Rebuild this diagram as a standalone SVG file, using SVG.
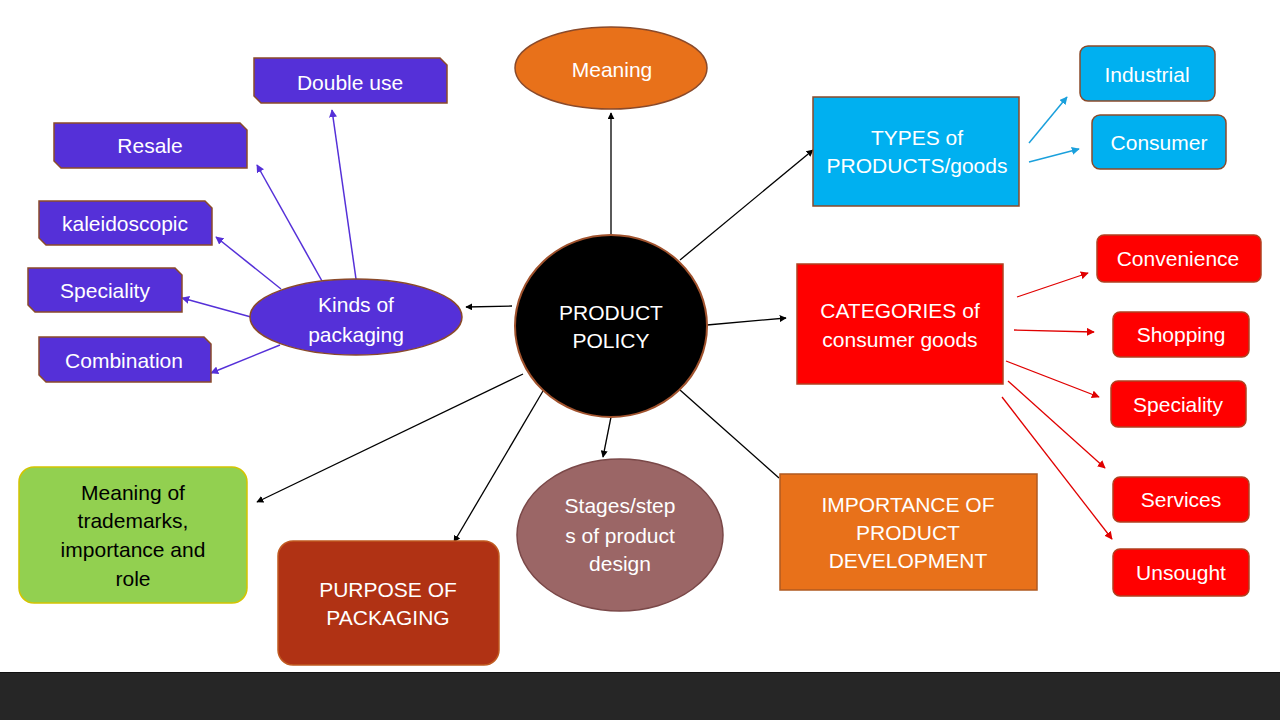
<svg xmlns="http://www.w3.org/2000/svg" width="1280" height="720" viewBox="0 0 1280 720">
<style>
text{font-family:"Liberation Sans",Arial,sans-serif;font-size:21px;fill:#fff;text-anchor:middle}
.dk{fill:#000}
.pu{fill:#5530d8;stroke:#8a4a2a;stroke-width:1.5}
.cy{fill:#00b0f0;stroke:#8a4a2a;stroke-width:1.5}
.rd{fill:#ff0000;stroke:#b04020;stroke-width:1.5}
.k{stroke:#000;stroke-width:1.3;fill:none}
.p{stroke:#5530d8;stroke-width:1.5;fill:none}
.b{stroke:#1aa0dc;stroke-width:1.5;fill:none}
.r{stroke:#e00000;stroke-width:1.3;fill:none}
</style>
<defs>
<marker id="ak" viewBox="0 0 10 10" refX="9" refY="5" markerWidth="7" markerHeight="7" orient="auto" markerUnits="userSpaceOnUse"><path d="M0,0L10,5L0,10z" fill="#000"/></marker>
<marker id="ap" viewBox="0 0 10 10" refX="9" refY="5" markerWidth="8" markerHeight="8" orient="auto" markerUnits="userSpaceOnUse"><path d="M0,0L10,5L0,10z" fill="#5530d8"/></marker>
<marker id="ab" viewBox="0 0 10 10" refX="9" refY="5" markerWidth="8" markerHeight="8" orient="auto" markerUnits="userSpaceOnUse"><path d="M0,0L10,5L0,10z" fill="#1aa0dc"/></marker>
<marker id="ar" viewBox="0 0 10 10" refX="9" refY="5" markerWidth="8" markerHeight="8" orient="auto" markerUnits="userSpaceOnUse"><path d="M0,0L10,5L0,10z" fill="#e00000"/></marker>
</defs>
<rect width="1280" height="720" fill="#fff"/>
<g id="connectors">
<line class="k" x1="611" y1="235" x2="611" y2="113" marker-end="url(#ak)"/>
<line class="k" x1="512" y1="306" x2="466" y2="307" marker-end="url(#ak)"/>
<line class="k" x1="680" y1="260" x2="813" y2="150" marker-end="url(#ak)"/>
<line class="k" x1="707" y1="325" x2="786" y2="318" marker-end="url(#ak)"/>
<line class="k" x1="680" y1="390" x2="779" y2="478"/>
<line class="k" x1="523" y1="374" x2="257" y2="502" marker-end="url(#ak)"/>
<line class="k" x1="543" y1="391" x2="454" y2="542" marker-end="url(#ak)"/>
<line class="k" x1="611" y1="417" x2="603" y2="457" marker-end="url(#ak)"/>
<line class="p" x1="356" y1="279" x2="332" y2="110" marker-end="url(#ap)"/>
<line class="p" x1="322" y1="281" x2="257" y2="165" marker-end="url(#ap)"/>
<line class="p" x1="281" y1="289" x2="216" y2="237" marker-end="url(#ap)"/>
<line class="p" x1="251" y1="317" x2="182" y2="298" marker-end="url(#ap)"/>
<line class="p" x1="280" y1="345" x2="211" y2="373" marker-end="url(#ap)"/>
<line class="b" x1="1029" y1="143" x2="1067" y2="97" marker-end="url(#ab)"/>
<line class="b" x1="1029" y1="162" x2="1079" y2="149" marker-end="url(#ab)"/>
<line class="r" x1="1017" y1="297" x2="1088" y2="273" marker-end="url(#ar)"/>
<line class="r" x1="1014" y1="330" x2="1094" y2="332" marker-end="url(#ar)"/>
<line class="r" x1="1006" y1="361" x2="1099" y2="397" marker-end="url(#ar)"/>
<line class="r" x1="1008" y1="381" x2="1105" y2="468" marker-end="url(#ar)"/>
<line class="r" x1="1002" y1="397" x2="1112" y2="539" marker-end="url(#ar)"/>
</g>
<g id="product-policy"><ellipse cx="611" cy="326" rx="96" ry="91" fill="#000" stroke="#a0522d" stroke-width="2"/><text x="611" y="320" font-size="20">PRODUCT</text><text x="611" y="348" font-size="20">POLICY</text></g>
<g id="meaning"><ellipse cx="611" cy="68" rx="96" ry="41" fill="#e8711a" stroke="#8a4a2a" stroke-width="1.5"/><text x="612" y="77">Meaning</text></g>
<g id="kinds"><ellipse cx="356" cy="317" rx="106" ry="38" class="pu"/><text x="356" y="312">Kinds of</text><text x="356" y="342">packaging</text></g>
<g id="double-use"><path class="pu" d="M254,58H440L447,65V103H261L254,96Z"/><text x="350" y="90">Double use</text></g>
<g id="resale"><path class="pu" d="M54,123H240L247,130V168H61L54,161Z"/><text x="150" y="153">Resale</text></g>
<g id="kaleidoscopic"><path class="pu" d="M39,201H205L212,208V245H46L39,238Z"/><text x="125" y="231">kaleidoscopic</text></g>
<g id="speciality-pack"><path class="pu" d="M28,268H175L182,275V312H35L28,305Z"/><text x="105" y="298">Speciality</text></g>
<g id="combination"><path class="pu" d="M39,337H204L211,344V382H46L39,375Z"/><text x="124" y="368">Combination</text></g>
<g id="types"><rect x="813" y="97" width="206" height="109" class="cy"/><text x="917" y="145">TYPES of</text><text x="917" y="173">PRODUCTS/goods</text></g>
<g id="industrial"><rect x="1080" y="46" width="135" height="55" rx="8" class="cy"/><text x="1147" y="82">Industrial</text></g>
<g id="consumer"><rect x="1092" y="115" width="134" height="54" rx="8" class="cy"/><text x="1159" y="150">Consumer</text></g>
<g id="categories"><rect x="797" y="264" width="206" height="120" class="rd"/><text x="900" y="318">CATEGORIES of</text><text x="900" y="347">consumer goods</text></g>
<g id="convenience"><rect x="1097" y="235" width="164" height="47" rx="7" class="rd"/><text x="1178" y="266">Convenience</text></g>
<g id="shopping"><rect x="1113" y="312" width="136" height="45" rx="7" class="rd"/><text x="1181" y="342">Shopping</text></g>
<g id="speciality-cons"><rect x="1111" y="381" width="135" height="46" rx="7" class="rd"/><text x="1178" y="412">Speciality</text></g>
<g id="services"><rect x="1113" y="477" width="136" height="45" rx="7" class="rd"/><text x="1181" y="507">Services</text></g>
<g id="unsought"><rect x="1113" y="549" width="136" height="47" rx="7" class="rd"/><text x="1181" y="580">Unsought</text></g>
<g id="importance"><rect x="780" y="474" width="257" height="116" fill="#e8711a" stroke="#b05a20" stroke-width="1.5"/><text x="908" y="512">IMPORTANCE OF</text><text x="908" y="540">PRODUCT</text><text x="908" y="568">DEVELOPMENT</text></g>
<g id="trademarks"><rect x="19" y="467" width="228" height="136" rx="15" fill="#92d050" stroke="#d4c400" stroke-width="1.5"/><text class="dk" x="133" y="500" font-size="22.5">Meaning of</text><text class="dk" x="133" y="528" font-size="22.5">trademarks,</text><text class="dk" x="133" y="557" font-size="22.5">importance and</text><text class="dk" x="133" y="586" font-size="22.5">role</text></g>
<g id="purpose"><rect x="278" y="541" width="221" height="124" rx="15" fill="#b03214" stroke="#c05a20" stroke-width="1.5"/><text x="388" y="597" font-size="20">PURPOSE OF</text><text x="388" y="625" font-size="20">PACKAGING</text></g>
<g id="stages"><ellipse cx="620" cy="535" rx="103" ry="76" fill="#9b6666" stroke="#7a4848" stroke-width="1.5"/><text x="620" y="513" font-size="22.5">Stages/step</text><text x="620" y="543" font-size="22.5">s of product</text><text x="620" y="571" font-size="22.5">design</text></g>
<rect x="0" y="672" width="1280" height="48" fill="#262626"/>
<line x1="0" y1="672.5" x2="1280" y2="672.5" stroke="#111" stroke-width="1"/>
</svg>
